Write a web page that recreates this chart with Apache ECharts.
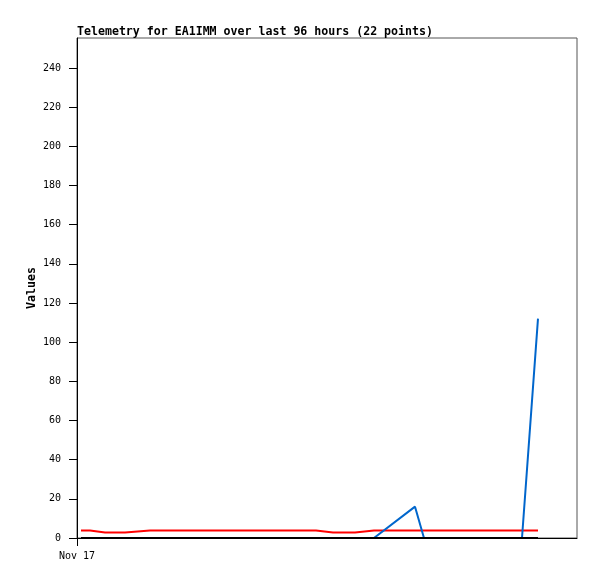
<!DOCTYPE html>
<html>
<head>
<meta charset="utf-8">
<script src="https://cdn.jsdelivr.net/npm/echarts@6/dist/echarts.min.js"></script>
<style>
html,body{margin:0;padding:0;background:#fff;}
#chart{width:597px;height:579px;}
</style>
</head>
<body>
<div id="chart"></div>
<script>
// Hours since Nov 17 00:00 for each of the 22 points
const hours = [0.77, 2.50, 5.38, 9.22, 14.02, 21.70, 29.38, 37.06, 42.82, 45.89, 49.15, 53.38, 57.02, 64.90, 66.62, 70.66, 74.50, 78.34, 82.18, 84.10, 85.44, 88.51];
const redValues = [3.8, 3.8, 2.8, 2.8, 3.8, 3.8, 3.8, 3.8, 3.8, 3.8, 2.8, 2.8, 3.8, 3.8, 3.8, 3.8, 3.8, 3.8, 3.8, 3.8, 3.8, 3.8];
const blueValues = [0, 0, 0, 0, 0, 0, 0, 0, 0, 0, 0, 0, 0, 16, 0, 0, 0, 0, 0, 0, 0, 112];
const blackValues = [0, 0, 0, 0, 0, 0, 0, 0, 0, 0, 0, 0, 0, 0, 0, 0, 0, 0, 0, 0, 0, 0];
const yTicks = [0, 20, 40, 60, 80, 100, 120, 140, 160, 180, 200, 220, 240];
const xTickValues = [0];
const xTickLabels = ['Nov 17'];
const titleText = 'Telemetry for EA1IMM over last 96 hours (22 points)';
const yName = 'Values';

const pairs = v => hours.map((h, i) => [h, v[i]]);
const font = 'DejaVu Sans Mono';

const chart = echarts.init(document.getElementById('chart'), null, {renderer: 'canvas'});
chart.setOption({
  animation: false,
  backgroundColor: '#fff',
  title: {
    text: titleText,
    left: 77, top: 26, padding: 0,
    textStyle: {fontFamily: font, fontSize: 11.6, fontWeight: 'bold', color: '#000'}
  },
  grid: {left: 77, top: 38, width: 500, height: 500, show: true, borderColor: '#555', borderWidth: 1, backgroundColor: 'transparent'},
  xAxis: {
    type: 'value', min: 0, max: 96,
    splitLine: {show: false},
    axisLine: {show: true, lineStyle: {color: '#000', width: 1}},
    axisTick: {show: true, length: 8, customValues: xTickValues, lineStyle: {color: '#000'}},
    axisLabel: {
      customValues: xTickValues,
      formatter: v => xTickLabels[xTickValues.indexOf(v)] || '',
      fontFamily: font, fontSize: 10, color: '#000', margin: 13
    }
  },
  yAxis: {
    type: 'value', min: 0, max: 255.3,
    name: yName, nameLocation: 'middle', nameRotate: 90, nameGap: 39, nameMoveOverlap: false,
    nameTextStyle: {fontFamily: font, fontSize: 11.6, fontWeight: 'bold', color: '#000'},
    splitLine: {show: false},
    axisLine: {show: true, lineStyle: {color: '#000', width: 1}},
    axisTick: {show: true, length: 8, customValues: yTicks, lineStyle: {color: '#000'}},
    axisLabel: {customValues: yTicks, fontFamily: font, fontSize: 10, color: '#000', margin: 16}
  },
  series: [
    {type: 'line', data: pairs(redValues), showSymbol: false, symbol: 'none', lineStyle: {color: '#ff0000', width: 2}, z: 2},
    {type: 'line', data: pairs(blueValues), showSymbol: false, symbol: 'none', lineStyle: {color: '#0066cc', width: 2}, z: 3},
    {type: 'line', data: pairs(blackValues), showSymbol: false, symbol: 'none', lineStyle: {color: '#000000', width: 2}, z: 4}
  ]
});
</script>
</body>
</html>
